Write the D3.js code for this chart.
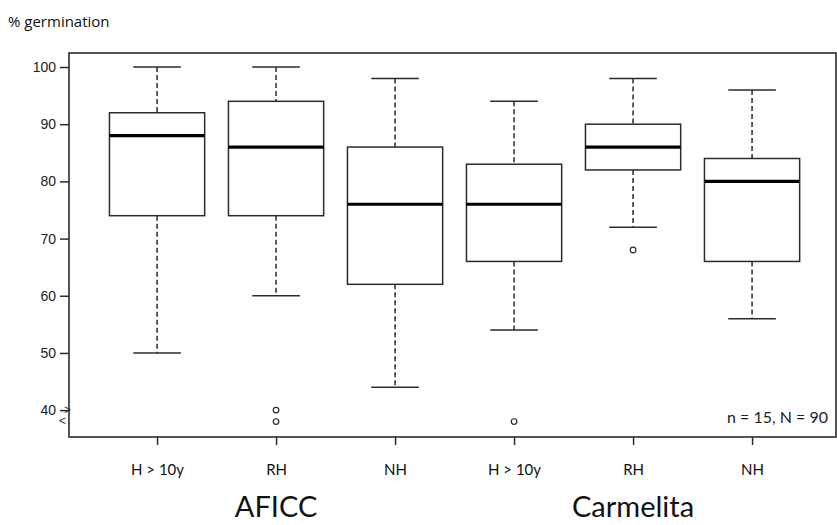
<!DOCTYPE html>
<html>
<head>
<meta charset="utf-8">
<script src="https://cdn.jsdelivr.net/npm/d3@7"></script>
<style>
  body { margin: 0; background: #fff; }
  svg { display: block; }
</style>
</head>
<body>
<div class="chart"></div>
<script>
// values
var groups = ['H > 10y', 'RH', 'NH', 'H > 10y', 'RH', 'NH']
var sites = ['AFICC', 'Carmelita']
var whiskerHigh = [100, 100, 98, 94, 98, 96]
var q3 = [92, 94, 86, 83, 90, 84]
var medians = [88, 86, 76, 76, 86, 80]
var q1 = [74, 74, 62, 66, 82, 66]
var whiskerLow = [50, 60, 44, 54, 72, 56]
var outliers = [[], [40, 38], [], [38], [68], []]
var yTicks = [40, 50, 60, 70, 80, 90, 100]

var width = 837
var height = 525
var plot = {left: 69, right: 836, top: 53, bottom: 437}

var svg = d3
  .select('.chart')
  .append('svg')
  .attr('width', width)
  .attr('height', height)

var x = d3
  .scaleLinear()
  .domain([0.26, 6.74])
  .range([plot.left, plot.left + (6.48 * 119)])
var y = d3
  .scaleLinear()
  .domain([35.3, 102.45])
  .range([plot.bottom, plot.top])

var boxW = 0.8 * 119
var capW = 0.4 * 119
var stroke = '#2b2b2b'
var lw = 1.5

// y axis
var yAxis = svg
  .append('g')
  .attr('transform', 'translate(' + plot.left + ',0)')
  .call(d3.axisLeft(y).tickValues(yTicks).tickSize(9).tickPadding(4))
yAxis.select('.domain').remove()
yAxis.selectAll('line').attr('stroke', stroke).attr('stroke-width', lw)
yAxis
  .selectAll('text')
  .attr('font-family', 'Liberation Sans, Arial, sans-serif')
  .attr('font-size', 14)
  .attr('fill', '#222')

// x axis
var xAxis = svg
  .append('g')
  .attr('transform', 'translate(0,' + plot.bottom + ')')
  .call(
    d3
      .axisBottom(x)
      .tickValues([1, 2, 3, 4, 5, 6])
      .tickFormat(function(d) { return groups[d - 1] })
      .tickSize(8)
      .tickPadding(19)
  )
xAxis.select('.domain').remove()
xAxis.selectAll('line').attr('stroke', stroke).attr('stroke-width', lw)
xAxis
  .selectAll('text')
  .attr('font-family', 'Lato, Open Sans, sans-serif')
  .attr('font-size', 15)
  .attr('fill', '#111')

// plot frame
svg
  .append('rect')
  .attr('x', plot.left)
  .attr('y', plot.top)
  .attr('width', plot.right - plot.left)
  .attr('height', plot.bottom - plot.top)
  .attr('fill', 'none')
  .attr('stroke', stroke)
  .attr('stroke-width', 1.6)

// boxes
var boxes = svg
  .selectAll('.box')
  .data(groups)
  .enter()
  .append('g')
  .attr('class', 'box')

boxes
  .append('line')
  .attr('x1', function(d, i) { return x(i + 1) })
  .attr('x2', function(d, i) { return x(i + 1) })
  .attr('y1', function(d, i) { return y(whiskerHigh[i]) })
  .attr('y2', function(d, i) { return y(q3[i]) })
  .attr('stroke', stroke)
  .attr('stroke-width', lw)
  .attr('stroke-dasharray', '5,3')
boxes
  .append('line')
  .attr('x1', function(d, i) { return x(i + 1) })
  .attr('x2', function(d, i) { return x(i + 1) })
  .attr('y1', function(d, i) { return y(q1[i]) })
  .attr('y2', function(d, i) { return y(whiskerLow[i]) })
  .attr('stroke', stroke)
  .attr('stroke-width', lw)
  .attr('stroke-dasharray', '5,3')
boxes
  .append('line')
  .attr('x1', function(d, i) { return x(i + 1) - capW / 2 })
  .attr('x2', function(d, i) { return x(i + 1) + capW / 2 })
  .attr('y1', function(d, i) { return y(whiskerHigh[i]) })
  .attr('y2', function(d, i) { return y(whiskerHigh[i]) })
  .attr('stroke', stroke)
  .attr('stroke-width', lw)
boxes
  .append('line')
  .attr('x1', function(d, i) { return x(i + 1) - capW / 2 })
  .attr('x2', function(d, i) { return x(i + 1) + capW / 2 })
  .attr('y1', function(d, i) { return y(whiskerLow[i]) })
  .attr('y2', function(d, i) { return y(whiskerLow[i]) })
  .attr('stroke', stroke)
  .attr('stroke-width', lw)
boxes
  .append('rect')
  .attr('x', function(d, i) { return x(i + 1) - boxW / 2 })
  .attr('y', function(d, i) { return y(q3[i]) })
  .attr('width', boxW)
  .attr('height', function(d, i) { return y(q1[i]) - y(q3[i]) })
  .attr('fill', '#fff')
  .attr('stroke', stroke)
  .attr('stroke-width', lw)
boxes
  .append('line')
  .attr('x1', function(d, i) { return x(i + 1) - boxW / 2 })
  .attr('x2', function(d, i) { return x(i + 1) + boxW / 2 })
  .attr('y1', function(d, i) { return y(medians[i]) })
  .attr('y2', function(d, i) { return y(medians[i]) })
  .attr('stroke', '#000')
  .attr('stroke-width', 3.2)

// outlier points
boxes.each(function(d, i) {
  d3.select(this)
    .selectAll('circle')
    .data(outliers[i])
    .enter()
    .append('circle')
    .attr('cx', x(i + 1))
    .attr('cy', function(v) { return y(v) })
    .attr('r', 2.8)
    .attr('fill', 'none')
    .attr('stroke', stroke)
    .attr('stroke-width', 1.2)
})

// axis break marks near 40
svg
  .append('text')
  .attr('x', plot.left - 5)
  .attr('y', y(40) + 4)
  .attr('font-family', 'Liberation Sans, Arial, sans-serif')
  .attr('font-size', 12)
  .attr('fill', '#333')
  .text('>')
svg
  .append('text')
  .attr('x', plot.left - 10)
  .attr('y', y(40) + 15)
  .attr('font-family', 'Liberation Sans, Arial, sans-serif')
  .attr('font-size', 12)
  .attr('fill', '#333')
  .text('<')

// titles
svg
  .append('text')
  .attr('x', 8)
  .attr('y', 27)
  .attr('font-family', 'Open Sans, sans-serif')
  .attr('font-size', 15)
  .attr('fill', '#111')
  .text('% germination')

svg
  .append('text')
  .attr('x', plot.right - 8)
  .attr('y', y(38) + 1)
  .attr('text-anchor', 'end')
  .attr('font-family', 'Lato, Open Sans, sans-serif')
  .attr('font-size', 16)
  .attr('fill', '#222')
  .text('n = 15, N = 90')

svg
  .selectAll('.site')
  .data(sites)
  .enter()
  .append('text')
  .attr('class', 'site')
  .attr('x', function(d, i) { return x(i * 3 + 2) })
  .attr('y', 517)
  .attr('text-anchor', 'middle')
  .attr('font-family', 'Lato, Open Sans, sans-serif')
  .attr('font-size', 29)
  .attr('fill', '#111')
  .text(function(d) { return d })
</script>
</body>
</html>
